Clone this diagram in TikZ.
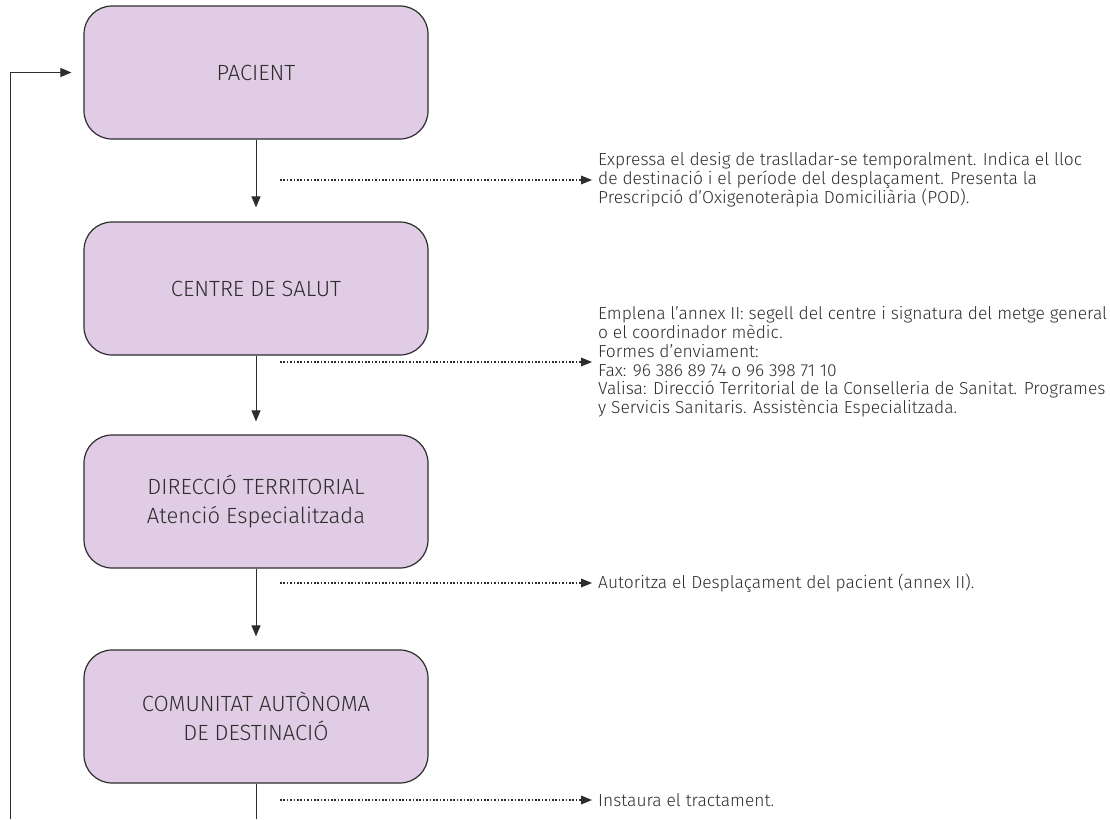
\documentclass[tikz,border=0pt]{standalone}
\usepackage{fontspec}
\setmainfont{Fira Sans Light}
\usetikzlibrary{arrows.meta,positioning}

\definecolor{boxfill}{RGB}{224,204,228}
\definecolor{inkgrey}{RGB}{45,45,45}

\tikzset{
  stepbox/.style={draw=inkgrey,fill=boxfill,rounded corners=28pt,line width=1.2pt,
                  minimum width=344pt,minimum height=133pt,align=center,
                  text=inkgrey,font=\fontsize{22}{29}\selectfont},
  flow/.style={draw=inkgrey,line width=1pt,-{Triangle[length=11pt,width=9pt]}},
  note/.style={draw=inkgrey,line width=1.6pt,dash pattern=on 1.6pt off 1.8pt,
               -{Triangle[length=11pt,width=9pt,line width=0pt]}},
  remark/.style={anchor=west,align=left,inner sep=0pt,text=inkgrey,
                 font=\fontsize{17.4}{18.8}\selectfont},
}

\begin{document}
\begin{tikzpicture}[x=1pt,y=-1pt]
  \useasboundingbox (0,0) rectangle (1110,819);
%
  \node [stepbox] (pacient)    at (256,72.5)  {PACIENT};
  \node [stepbox] (salut)      at (256,288.5) {CENTRE DE SALUT};
  \node [stepbox] (direccio)   at (256,501.5) {DIRECCIÓ TERRITORIAL\\Atenció Especialitzada};
  \node [stepbox] (destinacio) at (256,716.5) {COMUNITAT AUTÒNOMA\\DE DESTINACIÓ};
%
  \draw [flow,shorten >=14pt] (pacient.south) -- (salut.north) ;
  \draw [flow,shorten >=13pt] (salut.south) -- (direccio.north) ;
  \draw [flow,shorten >=13pt] (direccio.south) -- (destinacio.north) ;
  \coordinate (outfoot) at (256,819) ;
  \draw [draw=inkgrey,line width=1pt] (destinacio.south) -- (outfoot) ;
%
  \coordinate (loopfoot) at (10,819) ;
  \draw [flow,shorten >=12pt] (loopfoot) |- (pacient.west) ;
%
  \node [remark] (desig) at (598,180)
    {Expressa el desig de traslladar-se temporalment. Indica el lloc\\
     de destinació i el període del desplaçament. Presenta la\\
     Prescripció d’Oxigenoteràpia Domiciliària (POD).} ;
  \node [remark] (annex) at (598,362)
    {Emplena l’annex II: segell del centre i signatura del metge general\\
     o el coordinador mèdic.\\
     Formes d’enviament:\\
     Fax: 96 386 89 74 o 96 398 71 10\\
     Valisa: Direcció Territorial de la Conselleria de Sanitat. Programes\\
     y Servicis Sanitaris. Assistència Especialitzada.} ;
  \node [remark] (autoritza) at (598,583)
    {Autoritza el Desplaçament del pacient (annex II).} ;
  \node [remark] (tractament) at (598,800)
    {Instaura el tractament.} ;
%
  \coordinate (d1) at (280,180) ;
  \coordinate (d2) at (280,362) ;
  \coordinate (d3) at (280,583) ;
  \coordinate (d4) at (280,800) ;
  \draw [note,shorten >=6pt] (d1) -- (desig.west) ;
  \draw [note,shorten >=6pt] (d2) -- (annex.west) ;
  \draw [note,shorten >=6pt] (d3) -- (autoritza.west) ;
  \draw [note,shorten >=6pt] (d4) -- (tractament.west) ;
\end{tikzpicture}
\end{document}
